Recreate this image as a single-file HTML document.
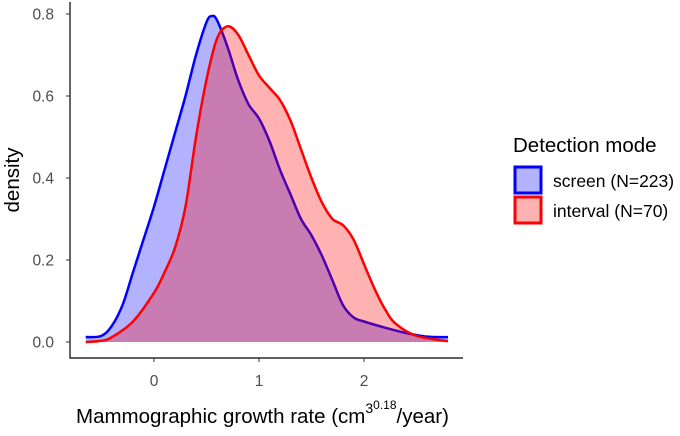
<!DOCTYPE html>
<html><head><meta charset="utf-8"><style>
body{margin:0;background:#fff;font-family:"Liberation Sans",sans-serif}
svg text{font-family:"Liberation Sans",sans-serif}
</style></head><body>
<svg id="chart" width="680" height="431" xmlns="http://www.w3.org/2000/svg">
<g id="plot"></g>
<g id="axes"></g>
<g id="legend">
<text x="513" y="152" font-size="20.5" fill="#000">Detection mode</text>
<rect x="515" y="167" width="26" height="26" fill="rgba(0,0,255,0.3)" stroke="#0000ff" stroke-width="3"/>
<text x="553" y="187" font-size="17.5" fill="#000">screen (N=223)</text>
<rect x="515" y="197" width="26" height="26" fill="rgba(255,0,0,0.3)" stroke="#ff0000" stroke-width="3"/>
<text x="553" y="217" font-size="17.5" fill="#000">interval (N=70)</text>
</g>
</svg>
<script>
const xTicks=[0,1,2];
const yTicks=[0,0.2,0.4,0.6,0.8];
const yTickLabels=["0.0","0.2","0.4","0.6","0.8"];
const screenX=[-0.65,-0.5,-0.4,-0.3,-0.2,-0.1,0,0.1,0.2,0.3,0.4,0.5,0.55,0.6,0.7,0.8,0.9,1.0,1.1,1.2,1.3,1.4,1.5,1.6,1.7,1.8,1.9,2.0,2.2,2.4,2.6,2.8];
const screenY=[0.012,0.015,0.04,0.09,0.17,0.25,0.33,0.42,0.51,0.6,0.7,0.78,0.795,0.785,0.72,0.64,0.58,0.545,0.49,0.42,0.36,0.3,0.26,0.21,0.15,0.09,0.06,0.05,0.035,0.022,0.013,0.012];
const intervalX=[-0.65,-0.5,-0.4,-0.2,0,0.1,0.2,0.3,0.4,0.5,0.6,0.7,0.8,0.9,1.0,1.1,1.2,1.3,1.4,1.5,1.6,1.7,1.8,1.9,2.0,2.1,2.2,2.3,2.5,2.8];
const intervalY=[0.0,0.003,0.012,0.05,0.12,0.17,0.23,0.33,0.5,0.64,0.74,0.77,0.75,0.7,0.65,0.62,0.59,0.54,0.47,0.4,0.34,0.3,0.285,0.25,0.19,0.13,0.08,0.045,0.015,0.002];
const X=v=>154+v*105, Y=v=>342-v*410;
const NS="http://www.w3.org/2000/svg";
function mk(t,a,p){const e=document.createElementNS(NS,t);for(const k in a)e.setAttribute(k,a[k]);p.appendChild(e);return e;}
function smooth(xs,ys){const p=xs.map((x,i)=>[X(x),Y(ys[i])]);let d="M"+p[0][0]+","+p[0][1];
for(let i=0;i<p.length-1;i++){const p0=p[Math.max(0,i-1)],p1=p[i],p2=p[i+1],p3=p[Math.min(p.length-1,i+2)];
d+=" C"+(p1[0]+(p2[0]-p0[0])/6)+","+(p1[1]+(p2[1]-p0[1])/6)+" "+(p2[0]-(p3[0]-p1[0])/6)+","+(p2[1]-(p3[1]-p1[1])/6)+" "+p2[0]+","+p2[1];}
return d;}
const plot=document.getElementById('plot'), axes=document.getElementById('axes');
function series(xs,ys,fill,stroke,name){
 const d=smooth(xs,ys);
 const a=mk('path',{d:d+" L"+X(xs[xs.length-1])+","+Y(0)+" L"+X(xs[0])+","+Y(0)+"Z",fill:fill,stroke:"none"},plot);
 
 
 const l=mk('path',{d:d,fill:"none",stroke:stroke,"stroke-width":2.5},plot);
 
 
}
series(screenX,screenY,"rgba(0,0,255,0.3)","#0000ff","screen");
series(intervalX,intervalY,"rgba(255,0,0,0.3)","#ff0000","interval");
const ya=mk('line',{x1:70,y1:2,x2:70,y2:358.5,stroke:"#000","stroke-width":1.2},axes);


const xa=mk('line',{x1:69.5,y1:358,x2:463,y2:358,stroke:"#000","stroke-width":1.2},axes);


yTicks.forEach((v,i)=>{
 const t=mk('line',{x1:66,x2:70,y1:Y(v),y2:Y(v),stroke:"#333"},axes);
 
 
 const s=mk('text',{x:54,y:Y(v)+5.5,"font-size":15.5,fill:"#4d4d4d","text-anchor":"end"},axes);s.textContent=yTickLabels[i];
 
 
});
xTicks.forEach(v=>{
 const t=mk('line',{x1:X(v),x2:X(v),y1:358,y2:362,stroke:"#333"},axes);
 
 
 const s=mk('text',{x:X(v),y:386,"font-size":15.5,fill:"#4d4d4d","text-anchor":"middle"},axes);s.textContent=String(v);
 
 
});
const yt=mk('text',{transform:"translate(19,180) rotate(-90)","font-size":20.5,"text-anchor":"middle",fill:"#000"},axes);yt.textContent="density";


const xt=mk('text',{x:76,y:423,"font-size":20.5,fill:"#000"},axes);


xt.innerHTML='Mammographic growth rate (cm<tspan font-size="14" dy="-10">3</tspan><tspan font-size="12" dy="-4">0.18</tspan><tspan dy="14">/year)</tspan>';
</script>
</body></html>
